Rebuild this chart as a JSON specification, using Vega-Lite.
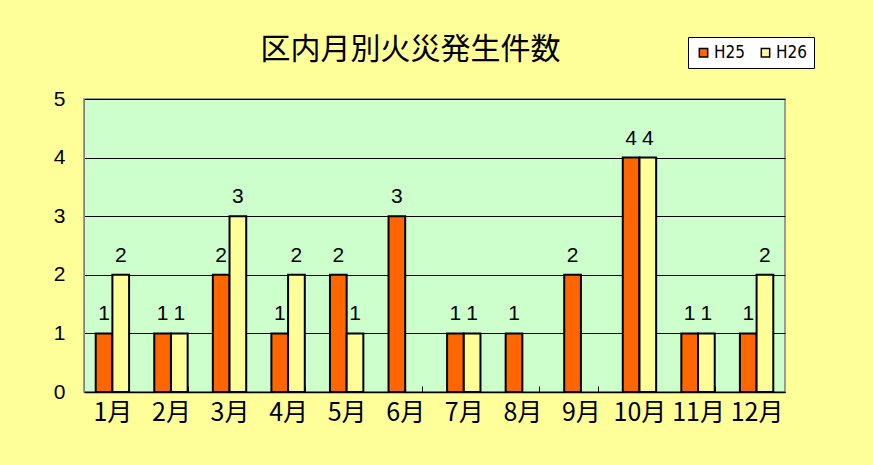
{
  "$schema": "https://vega.github.io/schema/vega-lite/v6.json",
  "description": "区内月別火災発生件数",
  "autosize": {"type": "none"},
  "width": 701,
  "height": 293,
  "padding": {"left": 84, "top": 99, "right": 88, "bottom": 73},
  "background": "#FFFF99",
  "title": {
    "text": "区内月別火災発生件数",
    "fontSize": 30,
    "font": "Noto Sans CJK JP",
    "fontWeight": "normal",
    "color": "black",
    "anchor": "middle",
    "dx": -24,
    "offset": -28
  },
  "data": {
    "values": [
      {"month": "1月", "series": "H25", "count": 1},
      {"month": "1月", "series": "H26", "count": 2},
      {"month": "2月", "series": "H25", "count": 1},
      {"month": "2月", "series": "H26", "count": 1},
      {"month": "3月", "series": "H25", "count": 2},
      {"month": "3月", "series": "H26", "count": 3},
      {"month": "4月", "series": "H25", "count": 1},
      {"month": "4月", "series": "H26", "count": 2},
      {"month": "5月", "series": "H25", "count": 2},
      {"month": "5月", "series": "H26", "count": 1},
      {"month": "6月", "series": "H25", "count": 3},
      {"month": "7月", "series": "H25", "count": 1},
      {"month": "7月", "series": "H26", "count": 1},
      {"month": "8月", "series": "H25", "count": 1},
      {"month": "9月", "series": "H25", "count": 2},
      {"month": "10月", "series": "H25", "count": 4},
      {"month": "10月", "series": "H26", "count": 4},
      {"month": "11月", "series": "H25", "count": 1},
      {"month": "11月", "series": "H26", "count": 1},
      {"month": "12月", "series": "H25", "count": 1},
      {"month": "12月", "series": "H26", "count": 2}
    ]
  },
  "encoding": {
    "x": {
      "field": "month",
      "type": "nominal",
      "sort": ["1月", "2月", "3月", "4月", "5月", "6月", "7月", "8月", "9月", "10月", "11月", "12月"],
      "scale": {"paddingInner": 0.43, "paddingOuter": 0.2},
      "axis": {
        "title": null,
        "labelAngle": 0,
        "labelFont": "Noto Sans CJK JP",
        "labelFontSize": 25,
        "labelPadding": 14,
        "labelColor": "black",
        "domainColor": "black",
        "domainWidth": 1.5,
        "tickBand": "extent",
        "tickSize": -6,
        "tickColor": "black"
      }
    },
    "xOffset": {
      "field": "series",
      "type": "nominal",
      "sort": ["H25", "H26"],
      "scale": {"paddingInner": 0, "paddingOuter": 0}
    },
    "y": {
      "field": "count",
      "type": "quantitative",
      "scale": {"domain": [0, 5]},
      "axis": {
        "title": null,
        "tickCount": 5,
        "labelFontSize": 21,
        "labelPadding": 19,
        "labelColor": "black",
        "ticks": false,
        "domainColor": "#808080",
        "grid": true,
        "gridColor": "black",
        "gridWidth": 1
      }
    }
  },
  "layer": [
    {
      "mark": {"type": "bar", "stroke": "black", "strokeWidth": 2},
      "encoding": {
        "color": {
          "field": "series",
          "type": "nominal",
          "scale": {"domain": ["H25", "H26"], "range": ["#FF6600", "#FFFF99"]},
          "legend": {
            "title": null,
            "orient": "none",
            "legendX": 604,
            "legendY": -62,
            "direction": "horizontal",
            "symbolType": "square",
            "symbolSize": 70,
            "symbolStrokeColor": "black",
            "symbolStrokeWidth": 1.5,
            "labelFontSize": 17,
            "labelColor": "black",
            "labelFont": "DejaVu Sans Condensed",
            "fillColor": "white",
            "strokeColor": "black",
            "padding": 7,
            "columnPadding": 12,
            "symbolOffset": 0,
            "labelOffset": 2
          }
        }
      }
    },
    {
      "mark": {"type": "text", "baseline": "bottom", "dy": -9, "fontSize": 21, "color": "black"},
      "encoding": {
        "text": {"field": "count", "type": "quantitative"}
      }
    }
  ],
  "config": {
    "font": "Liberation Sans",
    "view": {"fill": "#CCFFCC", "stroke": "#808080", "strokeWidth": 1.5}
  }
}
